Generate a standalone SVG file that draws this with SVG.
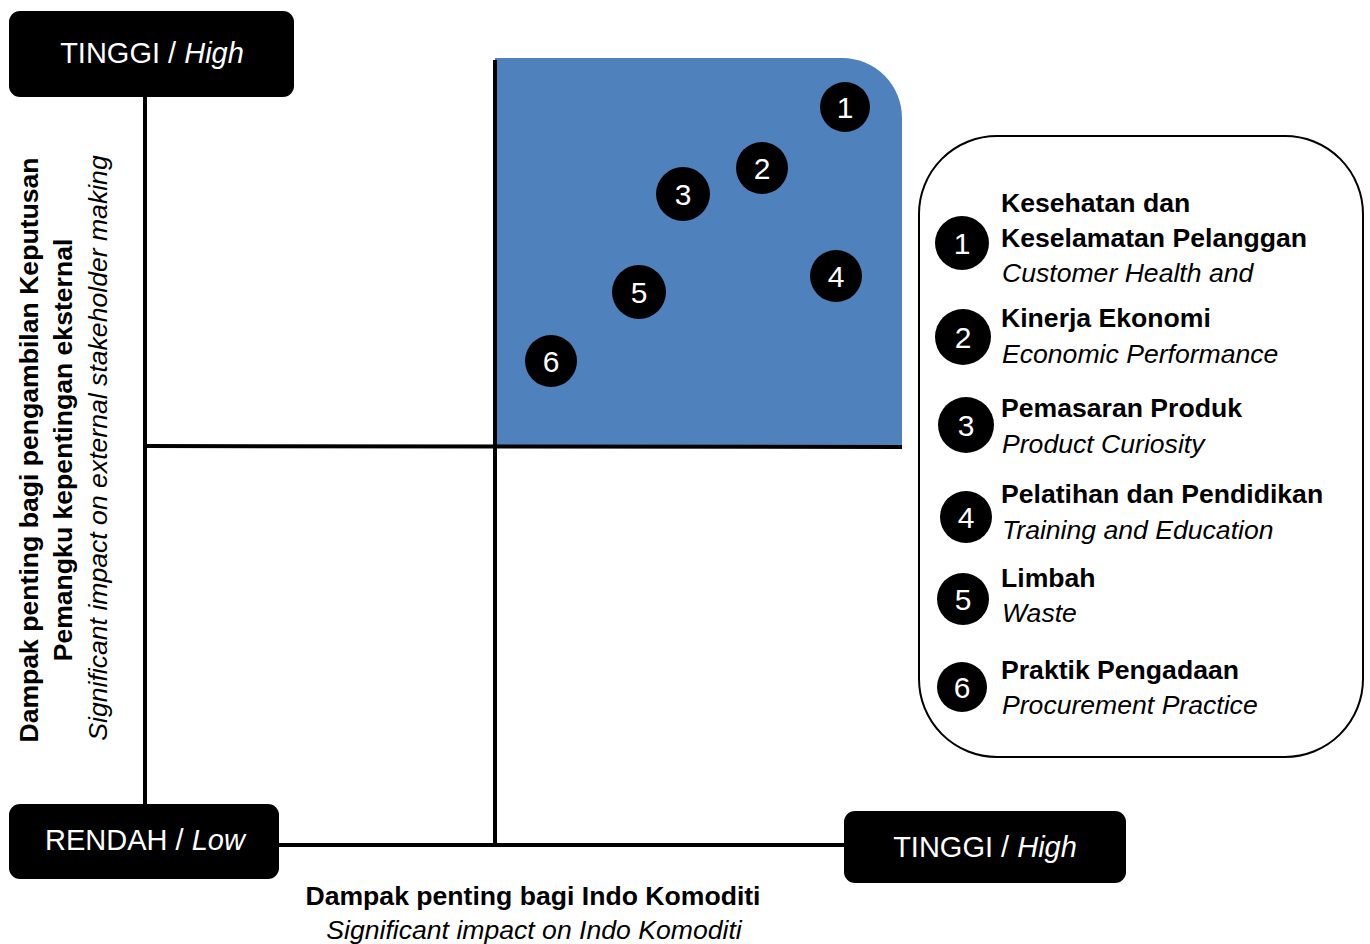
<svg xmlns="http://www.w3.org/2000/svg" width="1370" height="944" viewBox="0 0 1370 944">
<style>
.lbl{fill:#fff;font-family:"Liberation Sans",Arial,sans-serif;font-size:29px;text-anchor:middle}
.box{fill:#000}
.ax{stroke:#000;stroke-width:4;fill:none}
.num{fill:#fff;font-family:"Liberation Sans",Arial,sans-serif;font-size:30px;text-anchor:middle}
.t{font-family:"Liberation Sans",Arial,sans-serif;font-size:26.6px;fill:#000}
.b{font-weight:bold}
.i{font-style:italic}
</style>
<rect width="1370" height="944" fill="#fff"/>
<g id="quadrant">
<path d="M495 58 H842 A60 60 0 0 1 902 118 V447 H495 Z" fill="#4F81BD"/>
</g>
<g id="connectors">
<line class="ax" x1="145" y1="97" x2="145" y2="804"/>
<line class="ax" x1="495" y1="60" x2="495" y2="847"/>
<line class="ax" x1="145" y1="446" x2="902" y2="447"/>
<line class="ax" x1="279" y1="845" x2="844" y2="845"/>
</g>
<g id="top-high">
<rect class="box" x="9" y="11" width="285" height="86" rx="11"/>
<text class="lbl" x="152" y="63">TINGGI / <tspan font-style="italic">High</tspan></text>
</g>
<g id="low">
<rect class="box" x="9" y="804" width="270" height="75" rx="11"/>
<text class="lbl" x="145" y="850">RENDAH / <tspan font-style="italic">Low</tspan></text>
</g>
<g id="right-high">
<rect class="box" x="844" y="811" width="282" height="72" rx="11"/>
<text class="lbl" x="985" y="857">TINGGI / <tspan font-style="italic">High</tspan></text>
</g>
<g id="y-axis-label">
<text class="t b" transform="translate(38,450) rotate(-90)" text-anchor="middle">Dampak penting bagi pengambilan Keputusan</text>
<text class="t b" transform="translate(72,450) rotate(-90)" text-anchor="middle">Pemangku kepentingan eksternal</text>
<text class="t i" transform="translate(107,448) rotate(-90)" text-anchor="middle">Significant impact on external stakeholder making</text>
</g>
<g id="x-axis-label">
<text class="t b" x="533" y="905" text-anchor="middle">Dampak penting bagi Indo Komoditi</text>
<text class="t i" x="534" y="939" text-anchor="middle">Significant impact on Indo Komoditi</text>
</g>
<g id="point-1"><circle cx="845" cy="107" r="25"/><text class="num" x="845" y="118">1</text></g>
<g id="point-2"><circle cx="762" cy="168" r="26"/><text class="num" x="762" y="179">2</text></g>
<g id="point-3"><circle cx="683" cy="194" r="27"/><text class="num" x="683" y="205">3</text></g>
<g id="point-4"><circle cx="836" cy="276" r="26"/><text class="num" x="836" y="287">4</text></g>
<g id="point-5"><circle cx="639" cy="292" r="27"/><text class="num" x="639" y="303">5</text></g>
<g id="point-6"><circle cx="551" cy="361" r="26"/><text class="num" x="551" y="372">6</text></g>
<g id="legend">
<rect x="919" y="136" width="444" height="621" rx="78" fill="#fff" stroke="#000" stroke-width="2"/>
<g id="legend-1"><circle cx="962" cy="243" r="27"/><text class="num" x="962" y="254">1</text>
<text class="t b" x="1001" y="212">Kesehatan dan</text>
<text class="t b" x="1001" y="247">Keselamatan Pelanggan</text>
<text class="t i" x="1002" y="282">Customer Health and</text></g>
<g id="legend-2"><circle cx="963" cy="337" r="28"/><text class="num" x="963" y="348">2</text>
<text class="t b" x="1001" y="327">Kinerja Ekonomi</text>
<text class="t i" x="1002" y="363">Economic Performance</text></g>
<g id="legend-3"><circle cx="966" cy="425" r="28"/><text class="num" x="966" y="436">3</text>
<text class="t b" x="1001" y="417">Pemasaran Produk</text>
<text class="t i" x="1002" y="453">Product Curiosity</text></g>
<g id="legend-4"><circle cx="966" cy="517" r="26"/><text class="num" x="966" y="528">4</text>
<text class="t b" x="1001" y="503">Pelatihan dan Pendidikan</text>
<text class="t i" x="1002" y="539">Training and Education</text></g>
<g id="legend-5"><circle cx="963" cy="599" r="26"/><text class="num" x="963" y="610">5</text>
<text class="t b" x="1001" y="587">Limbah</text>
<text class="t i" x="1002" y="622">Waste</text></g>
<g id="legend-6"><circle cx="962" cy="687" r="25"/><text class="num" x="962" y="698">6</text>
<text class="t b" x="1001" y="679">Praktik Pengadaan</text>
<text class="t i" x="1002" y="714">Procurement Practice</text></g>
</g>
</svg>
